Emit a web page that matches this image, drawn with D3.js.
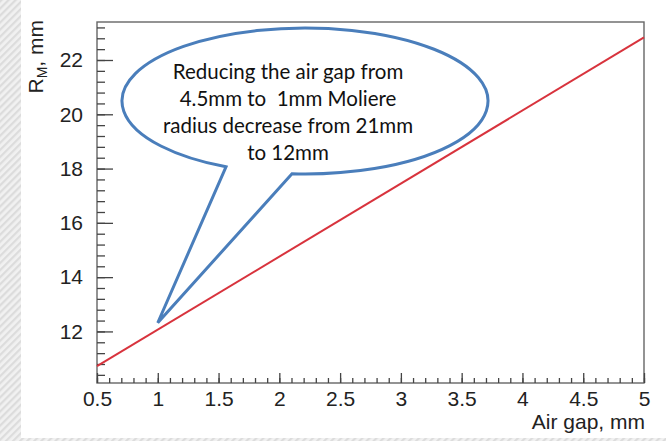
<!DOCTYPE html>
<html>
<head>
<meta charset="utf-8">
<script src="https://cdn.jsdelivr.net/npm/d3@7"></script>
<style>
  html, body { margin: 0; padding: 0; background: #fff; }
  svg { display: block; }
</style>
</head>
<body>
<svg id="chart" width="666" height="441"></svg>
<script>
// Molière radius versus air gap (linear fit)
const airGap = [0.5, 5.0];
const moliereRadius = [10.72, 22.83];

const xMajorTicks = [0.5, 1, 1.5, 2, 2.5, 3, 3.5, 4, 4.5, 5];
const yMajorTicks = [12, 14, 16, 18, 20, 22];
const xTickLabels = ["0.5", "1", "1.5", "2", "2.5", "3", "3.5", "4", "4.5", "5"];
const yTickLabels = ["12", "14", "16", "18", "20", "22"];

const calloutLines = [
  "Reducing the air gap from",
  "4.5mm to  1mm Moliere",
  "radius decrease from 21mm",
  "to 12mm"
];

const W = 666, H = 441;
const frame = { left: 97, right: 644, top: 22, bottom: 383 };
const axisFont = "'Liberation Sans', Arial, Helvetica, sans-serif";
const axisSize = 21;

const svg = d3.select("#chart");

// slide background: hatched strips around a white panel
const defs = svg.append("defs");
const pat = defs.append("pattern")
  .attr("id", "hatch").attr("patternUnits", "userSpaceOnUse")
  .attr("width", 5).attr("height", 5)
  .attr("patternTransform", "rotate(45)");
pat.append("rect").attr("width", 5).attr("height", 5).attr("fill", "#f1f1f1");
pat.append("rect").attr("width", 2.2).attr("height", 5).attr("fill", "#dcdcdc");

svg.append("rect").attr("width", W).attr("height", H).attr("fill", "url(#hatch)");
svg.append("rect").attr("x", 21).attr("y", 0).attr("width", W - 21).attr("height", 438).attr("fill", "#ffffff");

const x = d3.scaleLinear().domain([0.5, 5]).range([frame.left, frame.right]);
const y = d3.scaleLinear().domain([10.1, 23.4]).range([frame.bottom, frame.top]);

const g = svg.append("g");

// frame
g.append("rect")
  .attr("x", frame.left).attr("y", frame.top)
  .attr("width", frame.right - frame.left).attr("height", frame.bottom - frame.top)
  .attr("fill", "none").attr("stroke", "#666").attr("stroke-width", 1.4);

// x axis ticks (pointing inward)
const xMinor = d3.range(5, 51).map(v => v / 10);
const xAxisMinor = d3.axisTop(x).tickValues(xMinor).tickSize(5).tickFormat("");
const xAxisMajor = d3.axisTop(x).tickValues(xMajorTicks).tickSize(10)
  .tickFormat((d, i) => xTickLabels[i]);

const gxMinor = g.append("g").attr("transform", `translate(0,${frame.bottom})`).call(xAxisMinor);
const gxMajor = g.append("g").attr("transform", `translate(0,${frame.bottom})`).call(xAxisMajor);
[gxMinor, gxMajor].forEach(a => {
  a.select(".domain").remove();
  a.selectAll(".tick line").attr("stroke", "#444").attr("stroke-width", 1.3);
});
gxMajor.selectAll(".tick text")
  .attr("y", 22.5).attr("dy", null)
  .attr("font-family", axisFont)
  .attr("font-size", axisSize).attr("fill", "#222");

// y axis ticks (pointing inward)
const yMinor = d3.range(26, 59).map(v => v * 0.4);
const yAxisMinor = d3.axisRight(y).tickValues(yMinor).tickSize(8).tickFormat("");
const yAxisMajor = d3.axisRight(y).tickValues(yMajorTicks).tickSize(16)
  .tickFormat((d, i) => yTickLabels[i]);

const gyMinor = g.append("g").attr("transform", `translate(${frame.left},0)`).call(yAxisMinor);
const gyMajor = g.append("g").attr("transform", `translate(${frame.left},0)`).call(yAxisMajor);
[gyMinor, gyMajor].forEach(a => {
  a.select(".domain").remove();
  a.selectAll(".tick line").attr("stroke", "#444").attr("stroke-width", 1.3);
});
gyMajor.selectAll(".tick text")
  .attr("x", -14).attr("text-anchor", "end")
  .attr("font-family", axisFont)
  .attr("font-size", axisSize).attr("fill", "#222");

// axis titles
g.append("text")
  .attr("x", frame.right + 1).attr("y", 429)
  .attr("text-anchor", "end")
  .attr("font-family", axisFont)
  .attr("font-size", axisSize).attr("fill", "#222")
  .text("Air gap, mm");

const yTitle = g.append("text")
  .attr("transform", `translate(43,20) rotate(-90)`)
  .attr("text-anchor", "end")
  .attr("font-family", axisFont)
  .attr("font-size", axisSize).attr("fill", "#222");
yTitle.append("tspan").text("R");
yTitle.append("tspan").attr("font-size", 14).attr("dy", 4).text("M");
yTitle.append("tspan").attr("dy", -4).text(", mm");

// fitted line
const line = d3.line().x((d, i) => x(airGap[i])).y(d => y(d));
g.append("path")
  .datum(moliereRadius)
  .attr("d", line)
  .attr("fill", "none")
  .attr("stroke", "#d8333d")
  .attr("stroke-width", 2);

// speech-bubble callout pointing at the line near 1 mm
const cx = 305, cy = 101, rx = 183, ry = 73;
const tipX = x(1.0), tipY = y(12.32);
const baseA = 226, baseB = 292;
const yOn = px => cy + ry * Math.sqrt(1 - ((px - cx) / rx) ** 2);
const aY = yOn(baseA), bY = yOn(baseB);
const pathStr =
  `M${baseB},${bY} A${rx},${ry} 0 1 0 ${baseA},${aY} L${tipX},${tipY} Z`;
g.append("path")
  .attr("d", pathStr)
  .attr("fill", "#ffffff")
  .attr("stroke", "#4a7ebb")
  .attr("stroke-width", 3)
  .attr("stroke-linejoin", "miter");

g.append("g").selectAll("text")
  .data(calloutLines)
  .join("text")
  .attr("x", 288)
  .attr("y", (d, i) => 79 + i * 27)
  .attr("text-anchor", "middle")
  .attr("font-family", "Lato, 'Open Sans', sans-serif")
  .attr("font-size", 20.5)
  .attr("fill", "#111")
  .attr("xml:space", "preserve")
  .style("white-space", "pre")
  .text(d => d);
</script>
</body>
</html>
